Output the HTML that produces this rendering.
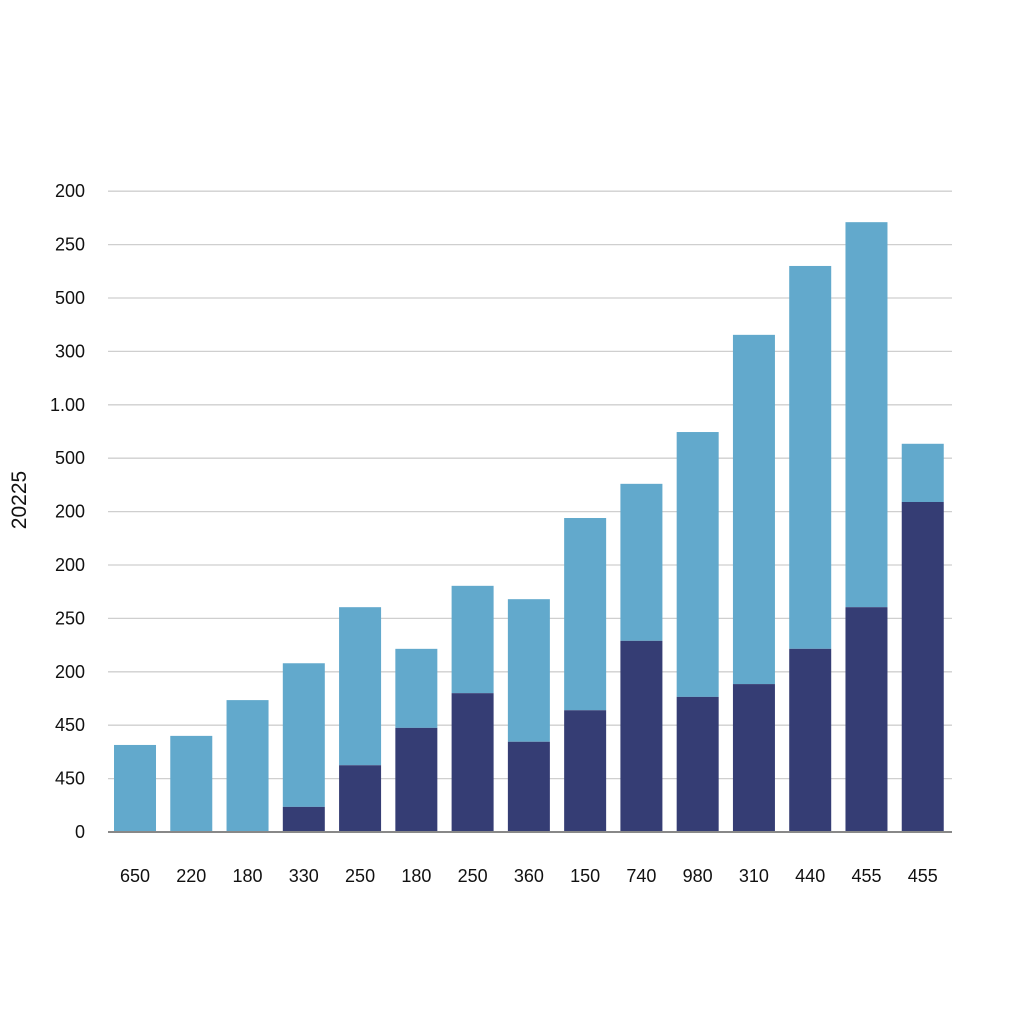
<!DOCTYPE html>
<html><head><meta charset="utf-8"><style>
body{margin:0;background:#fff;}
svg{display:block;font-family:"Liberation Sans",sans-serif;}
</style></head><body>
<svg id="chart" width="1024" height="1024">
<text x="26" y="500" font-size="21" fill="#111" text-anchor="middle" transform="rotate(-90 26 500)">20225</text>
</svg>
<script>
const yTickLabels=["0","450","450","200","250","200","200","500","1.00","300","500","250","200"];
const categories=["650","220","180","330","250","180","250","360","150","740","980","310","440","455","455"];
const darkValues=[0,0,0,0.47,1.25,1.95,2.60,1.69,2.28,3.58,2.53,2.77,3.43,4.21,6.18];
const totalValues=[1.63,1.80,2.47,3.16,4.21,3.43,4.61,4.36,5.88,6.52,7.49,9.31,10.6,11.42,7.27];
const svg=document.getElementById('chart');
const NS='http://www.w3.org/2000/svg';
const x0=108,x1=952,yBase=832,unit=53.4;
const yScale=v=>yBase-v*unit;
const step=(x1-x0)/categories.length;
const xScale=i=>x0+step*(i+0.5)-step*0.02;
function mk(t,a){const e=document.createElementNS(NS,t);for(const k in a)e.setAttribute(k,a[k]);svg.appendChild(e);return e;}
yTickLabels.forEach((lab,i)=>{
  const y=yScale(i);
  if(i>0){const g=mk('line',{x1:x0,x2:x1,y1:y,y2:y,stroke:'#cfcfcf','stroke-width':1.3});
  
  }
  const t=mk('text',{x:85,y:y+6,'font-size':18,fill:'#111','text-anchor':'end'});
  t.textContent=lab;
  
  
});
const bw=42;
categories.forEach((c,i)=>{
  const cx=xScale(i);
  const lt=mk('rect',{x:cx-bw/2,y:yScale(totalValues[i]),width:bw,height:(totalValues[i]-darkValues[i])*unit,fill:'#62a9cc'});
  
  
  if(darkValues[i]>0){const d=mk('rect',{x:cx-bw/2,y:yScale(darkValues[i]),width:bw,height:darkValues[i]*unit,fill:'#353d74'});
  
  }
  const t=mk('text',{x:cx,y:882,'font-size':18,fill:'#111','text-anchor':'middle'});
  t.textContent=c;
  
  
});
const base=mk('line',{x1:x0,x2:x1,y1:yBase,y2:yBase,stroke:'#888','stroke-width':2});


</script>
</body></html>
